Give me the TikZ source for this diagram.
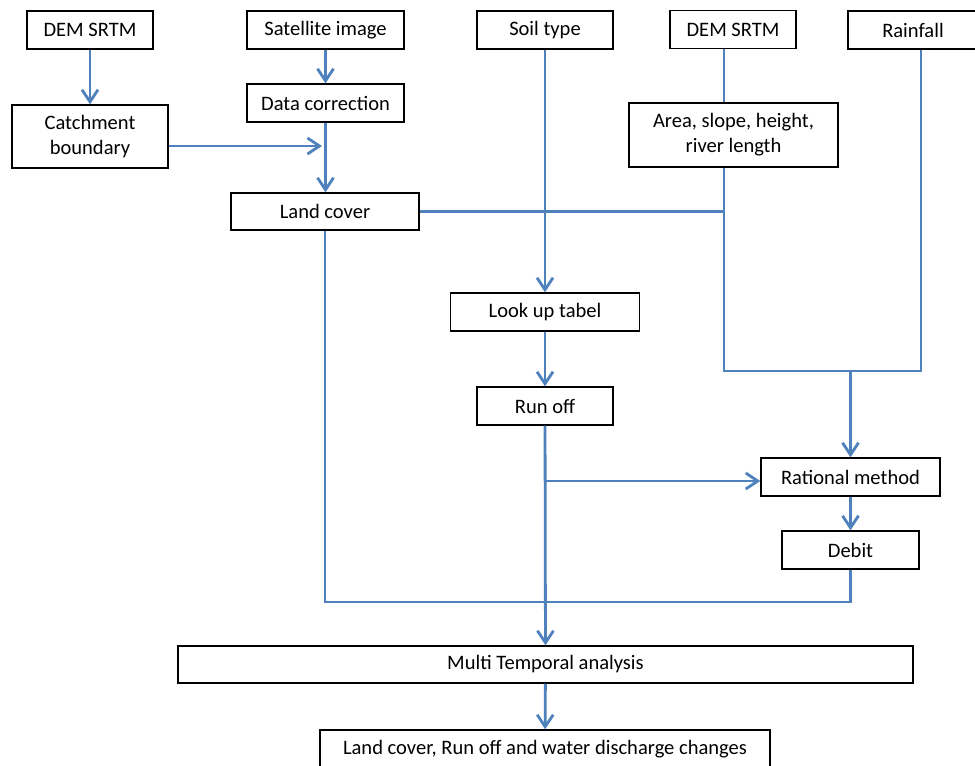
\documentclass[tikz,border=0pt]{standalone}
\usepackage{fontspec}
\setmainfont{Carlito}
\usetikzlibrary{arrows.meta}
\definecolor{flowblue}{RGB}{79,129,189}
\begin{document}
\begin{tikzpicture}[x=0.75pt,y=-0.75pt,
  box/.style={draw=black,line width=1.1pt,fill=white,inner sep=0pt,align=center,
    font=\fontsize{15.4}{18.75}\selectfont},
  flow/.style={draw=flowblue,line width=2.1pt},
  arr/.style={flow,-{Straight Barb[length=9pt,width=12pt]}}]
\useasboundingbox (0,0) rectangle (975,765);
% boxes
\node[box,minimum width=126*0.75pt,minimum height=38*0.75pt] (dem1) at (90,30) {DEM SRTM};
\node[box,minimum width=157*0.75pt,minimum height=38*0.75pt] (sat) at (325.5,30) {Satellite image};
\node[box,minimum width=136*0.75pt,minimum height=38*0.75pt] (soil) at (545,30) {Soil type};
\node[box,minimum width=126*0.75pt,minimum height=38*0.75pt] (dem2) at (733,29.5) {DEM SRTM};
\node[box,minimum width=130*0.75pt,minimum height=38*0.75pt] (rain) at (913,30) {Rainfall};
\node[box,minimum width=156*0.75pt,minimum height=63*0.75pt] (catch) at (90,136.5) {Catchment\\boundary};
\node[box,minimum width=157*0.75pt,minimum height=38*0.75pt] (datacorr) at (325.5,103) {Data correction};
\node[box,minimum width=209*0.75pt,minimum height=64*0.75pt] (area) at (733.5,135) {Area, slope, height,\\river length};
\node[box,minimum width=188*0.75pt,minimum height=37*0.75pt] (land) at (325,211.5) {Land cover};
\node[box,minimum width=189*0.75pt,minimum height=38*0.75pt] (lookup) at (545,312) {Look up tabel};
\node[box,minimum width=136*0.75pt,minimum height=38*0.75pt] (runoff) at (545,406) {Run off};
\node[box,minimum width=179*0.75pt,minimum height=38*0.75pt] (rational) at (850.5,477) {Rational method};
\node[box,minimum width=137*0.75pt,minimum height=38*0.75pt] (debit) at (850.5,550) {Debit};
\node[box,minimum width=735*0.75pt,minimum height=37*0.75pt] (multi) at (545.5,664.5) {Multi Temporal analysis};
\node[box,minimum width=450*0.75pt,minimum height=38*0.75pt] (final) at (545,749) {Land cover, Run off and water discharge changes};
% junction coordinates
\coordinate (jc) at (322,146);
\coordinate (dx) at (724,0);
\coordinate (jr) at (724,371);
\coordinate (jrain) at (921,371);
\coordinate (jm) at (850.5,371);
\coordinate (jb) at (545,481);
\coordinate (jd) at (850.5,602);
% connectors
\draw[arr] (dem1) -- (catch);
\draw[arr] (sat) -- (datacorr);
\draw[arr] (datacorr.south) -- (datacorr.south |- land.north);
\draw[arr] (catch.east |- jc) -- (jc);
\draw[arr] (soil) -- (lookup);
\draw[arr] (lookup) -- (runoff);
\draw[flow] (dem2.south -| dx) -- (area.north -| dx);
\draw[flow] (area.south -| jr) -- (jr) -- (jrain) -- (rain.south -| jrain);
\draw[arr] (jm) -- (rational.north);
\draw[flow] (land.east) -- (land.east -| jr);
\draw[arr] (runoff) -- (multi);
\draw[arr] (jb) -- (jb -| rational.west);
\draw[arr] (rational) -- (debit);
\draw[flow] (debit.south) -- (jd) -- (jd -| land.south) -- (land.south);
\draw[arr] (multi) -- (final);
\end{tikzpicture}
\end{document}
